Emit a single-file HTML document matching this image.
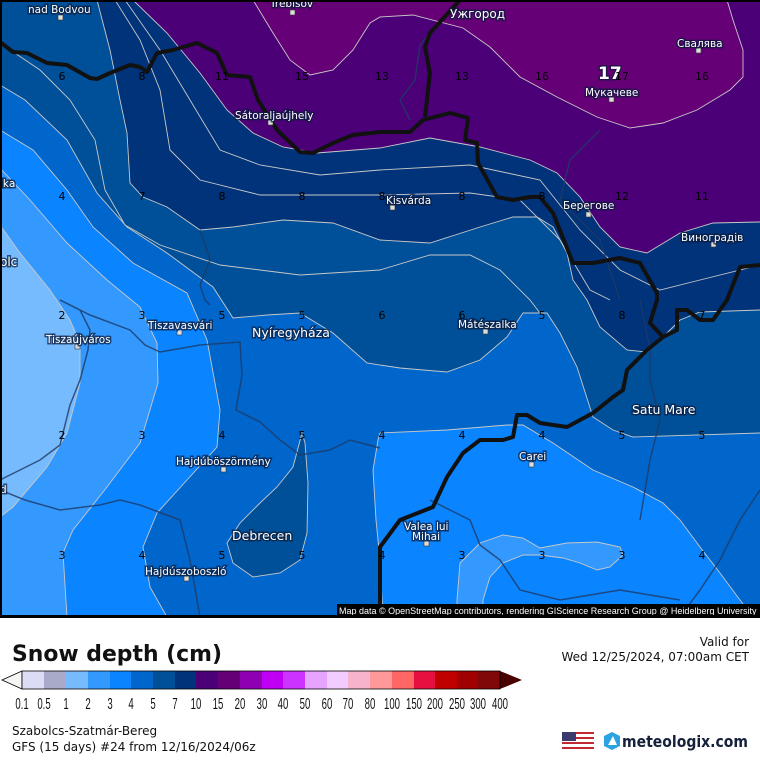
<!DOCTYPE html>
<html><head><meta charset="utf-8"><style>
body{margin:0;width:760px;height:760px;background:#fff;overflow:hidden;font-family:"Liberation Sans","DejaVu Sans",sans-serif}
svg{position:absolute;left:0;top:0}
.c{font:10.5px "DejaVu Sans","Liberation Sans",sans-serif;fill:#fff;paint-order:stroke;stroke:#0a1a3a;stroke-width:3px;stroke-opacity:.7}
.n{font:11px "DejaVu Sans",sans-serif;fill:#000}
.t{font:12px "DejaVu Sans",sans-serif;fill:#111}
</style></head><body>
<svg width="760" height="760" viewBox="0 0 760 760">
<rect x="0" y="0" width="760" height="618" fill="#0066cc"/>
<polygon fill="#0a84ff" points="0,130 33,150 67,190 93,227 133,263 187,293 207,340 220,410 217,447 187,480 157,513 143,547 150,587 167,617 0,617"/>
<polygon fill="#3399ff" points="0,168 30,200 67,243 107,280 140,307 157,343 158,383 140,443 107,487 73,530 63,553 67,617 0,617"/>
<polygon fill="#77bbff" points="0,225 20,253 50,290 70,320 80,343 80,383 67,433 47,467 13,507 0,517"/>
<polygon fill="#0a84ff" points="383,617 380,560 376,520 373,470 378,440 380,433 447,430 507,425 523,425 553,443 593,470 633,487 663,503 680,520 700,547 720,573 740,600 753,617"/>
<polygon fill="#3399ff" points="457,617 457,600 460,563 480,543 503,535 523,538 540,548 567,543 597,542 620,547 623,555 610,567 597,570 580,563 563,558 540,555 523,555 503,563 490,577 483,600 483,617"/>
<polygon fill="#005099" points="0,0 0,85 25,100 67,140 97,193 127,227 167,253 213,287 233,318 267,315 300,313 333,333 367,363 400,368 447,372 480,360 507,337 523,313 547,313 560,333 577,367 593,417 613,430 633,437 760,433 760,0"/>
<polygon fill="#005099" points="302,433 293,467 277,487 260,503 240,523 227,543 233,563 253,577 280,573 300,560 307,533 308,483 305,443"/>
<polygon fill="#00337a" points="97,0 110,50 120,100 127,133 130,183 143,197 167,207 200,230 233,227 283,220 333,223 380,240 430,243 480,227 513,217 537,217 553,227 567,253 573,280 587,300 600,327 627,350 647,352 660,340 680,320 700,312 760,310 760,0"/>
<polygon fill="#4b0078" points="133,0 167,33 200,73 227,110 253,133 283,147 317,153 380,148 430,138 480,147 530,160 557,173 580,197 600,227 620,247 647,253 680,233 713,223 760,222 760,0"/>
<polygon fill="#660077" points="253,0 273,33 290,60 310,75 333,70 353,50 370,23 380,17 413,15 463,28 490,47 520,77 557,97 597,117 630,128 663,123 697,110 730,90 743,77 743,50 733,20 727,0"/>
<g fill="none" stroke="#c8c8c8" stroke-width="0.9">
<polyline points="0,130 33,150 67,190 93,227 133,263 187,293 207,340 220,410 217,447 187,480 157,513 143,547 150,587 167,617"/>
<polyline points="0,168 30,200 67,243 107,280 140,307 157,343 158,383 140,443 107,487 73,530 63,553 67,617"/>
<polyline points="0,225 20,253 50,290 70,320 80,343 80,383 67,433 47,467 13,507 0,517"/>
<polyline points="383,617 380,560 376,520 373,470 378,440 380,433 447,430 507,425 523,425 553,443 593,470 633,487 663,503 680,520 700,547 720,573 740,600 753,617"/>
<polyline points="457,617 457,600 460,563 480,543 503,535 523,538 540,548 567,543 597,542 620,547 623,555 610,567 597,570 580,563 563,558 540,555 523,555 503,563 490,577 483,600 483,617"/>
<polyline points="0,85 25,100 67,140 97,193 127,227 167,253 213,287 233,318 267,315 300,313 333,333 367,363 400,368 447,372 480,360 507,337 523,313 547,313 560,333 577,367 593,417 613,430 633,437 760,433"/>
<polygon points="302,433 293,467 277,487 260,503 240,523 227,543 233,563 253,577 280,573 300,560 307,533 308,483 305,443"/>
<polyline points="0,43 40,70 70,100 95,140 105,190 125,225 160,245 220,265 300,275 380,270 430,255 470,255 500,270 530,300 540,313"/>
<polyline points="97,0 110,50 120,100 127,133 130,183 143,197 167,207 200,230 233,227 283,220 333,223 380,240 430,243 480,227 513,217 537,217 553,227 567,253 573,280 587,300 600,327 627,350 647,352 660,340 680,320 700,312 760,310"/>
<polyline points="115,0 140,40 160,90 170,150 200,180 260,195 380,195 470,193 520,200 560,240 590,290 610,300"/>
<polyline points="125,0 160,50 190,100 220,150 260,165 320,175 380,170 470,165 540,180 580,230 620,270 660,290 700,280 760,265"/>
<polyline points="133,0 167,33 200,73 227,110 253,133 283,147 317,153 380,148 430,138 480,147 530,160 557,173 580,197 600,227 620,247 647,253 680,233 713,223 760,222"/>
<polyline points="253,0 273,33 290,60 310,75 333,70 353,50 370,23 380,17 413,15 463,28 490,47 520,77 557,97 597,117 630,128 663,123 697,110 730,90 743,77 743,50 733,20 727,0"/>
</g>
<g fill="none" stroke="#1e3a66" stroke-width="1.5" opacity=".8">
<polyline points="200,617 190,560 180,520 140,505 120,500 100,505 60,510 25,500 0,490"/>
<polyline points="60,300 80,310 90,330 88,350 80,380 70,405 60,445 40,460 20,470 0,480"/>
<polyline points="60,300 90,315 130,330 145,345 160,352 200,345 240,342 242,375 236,410 260,422 280,440 300,455 330,450 350,440 380,448"/>
<polyline points="200,230 210,260 200,285 205,300 210,305"/>
<polyline points="430,33 420,45 415,80 400,100 410,120"/>
<polyline points="600,130 570,160 560,200 600,240 620,300"/>
<polyline points="640,300 650,350 650,380 660,420 650,460 640,520"/>
<polyline points="760,490 740,520 720,560 700,590 680,617"/>
<polyline points="430,500 450,510 470,520 480,545 500,560 520,590 560,600 620,590 680,600"/>
</g>
<g fill="none" stroke="#111" stroke-width="4" stroke-linejoin="round">
<polyline points="0,42 13,52 27,53 47,63 67,65 90,78 97,79 110,73 130,65 140,67 147,72 157,53 173,50 197,43 217,53 227,75 250,77 258,100 277,130 300,152 313,153 333,143 353,135 380,132 410,132 423,120 450,113 468,118 465,140 477,143 478,163 497,197 513,200 530,197 540,197 553,213 573,263 593,263 620,258 640,263 657,293 657,300 650,323 663,337 677,330 677,310 687,310 700,320 713,320 727,300 740,267 760,265"/>
<polyline points="460,0 430,33 425,47 430,73 425,117"/>
<polyline points="663,337 647,350 627,370 623,390 613,397 593,413 567,427 540,423 527,415 517,415 513,437 503,440 480,440 463,453 447,477 433,507 400,520 380,547 380,605"/>
</g>
<g fill="#ddd" stroke="#333" stroke-width=".6">
<rect x="58" y="15" width="5" height="5"/><rect x="290" y="10" width="5" height="5"/><rect x="268" y="120" width="5" height="5"/>
<rect x="390" y="205" width="5" height="5"/><rect x="586" y="212" width="5" height="5"/><rect x="711" y="242" width="5" height="5"/>
<rect x="609" y="97" width="5" height="5"/><rect x="696" y="48" width="5" height="5"/><rect x="177" y="330" width="5" height="5"/>
<rect x="75" y="344" width="5" height="5"/><rect x="483" y="329" width="5" height="5"/><rect x="221" y="467" width="5" height="5"/>
<rect x="529" y="462" width="5" height="5"/><rect x="424" y="541" width="5" height="5"/><rect x="184" y="576" width="5" height="5"/>
</g>
<g class="c">
<text x="28" y="13">nad Bodvou</text><text x="270" y="7">Trebišov</text><text x="450" y="18" font-size="12">Ужгород</text>
<text x="677" y="47">Свалява</text><text x="235" y="119">Sátoraljaújhely</text><text x="585" y="96">Мукачеве</text>
<text x="386" y="204">Kisvárda</text><text x="563" y="209">Берегове</text><text x="681" y="241">Виноградів</text>
<text x="0" y="187">ika</text><text x="0" y="266" font-size="12">olc</text>
<text x="148" y="329">Tiszavasvári</text><text x="46" y="343">Tiszaújváros</text><text x="252" y="337" font-size="12.5">Nyíregyháza</text>
<text x="458" y="328">Mátészalka</text><text x="632" y="414" font-size="12.5">Satu Mare</text><text x="519" y="460">Carei</text>
<text x="176" y="465">Hajdúböszörmény</text><text x="232" y="540" font-size="12.5">Debrecen</text>
<text x="404" y="530">Valea lui</text><text x="412" y="540">Mihai</text><text x="145" y="575">Hajdúszoboszló</text><text x="0" y="493">d</text>
<text x="598" y="79" font-size="17" font-weight="bold">17</text>
</g>
<g class="n" text-anchor="middle">
<text x="62" y="80">6</text><text x="142" y="80">8</text><text x="222" y="80">11</text><text x="302" y="80">15</text><text x="382" y="80">13</text><text x="462" y="80">13</text><text x="542" y="80">16</text><text x="622" y="80">17</text><text x="702" y="80">16</text>
<text x="62" y="200">4</text><text x="142" y="200">7</text><text x="222" y="200">8</text><text x="302" y="200">8</text><text x="382" y="200">8</text><text x="462" y="200">8</text><text x="542" y="200">8</text><text x="622" y="200">12</text><text x="702" y="200">11</text>
<text x="62" y="319">2</text><text x="142" y="319">3</text><text x="222" y="319">5</text><text x="302" y="319">5</text><text x="382" y="319">6</text><text x="462" y="319">6</text><text x="542" y="319">5</text><text x="622" y="319">8</text><text x="702" y="319">7</text>
<text x="62" y="439">2</text><text x="142" y="439">3</text><text x="222" y="439">4</text><text x="302" y="439">5</text><text x="382" y="439">4</text><text x="462" y="439">4</text><text x="542" y="439">4</text><text x="622" y="439">5</text><text x="702" y="439">5</text>
<text x="62" y="559">3</text><text x="142" y="559">4</text><text x="222" y="559">5</text><text x="302" y="559">5</text><text x="382" y="559">4</text><text x="462" y="559">3</text><text x="542" y="559">3</text><text x="622" y="559">3</text><text x="702" y="559">4</text>
</g>
<rect x="337" y="604" width="423" height="13" fill="#000"/>
<text x="339" y="614" font-size="9" fill="#fff" font-family="Liberation Sans,sans-serif">Map data © OpenStreetMap contributors, rendering GIScience Research Group @ Heidelberg University</text>
<rect x="0" y="0" width="760" height="2" fill="#000"/><rect x="0" y="0" width="2" height="618" fill="#000"/><rect x="0" y="615" width="760" height="3" fill="#000"/>
<text x="12" y="661" font-size="22" font-weight="bold" fill="#111" font-family="DejaVu Sans,sans-serif" textLength="210" lengthAdjust="spacingAndGlyphs">Snow depth (cm)</text>
<text x="749" y="646" class="t" text-anchor="end">Valid for</text>
<text x="749" y="661" class="t" text-anchor="end">Wed 12/25/2024, 07:00am CET</text>
<polygon points="2,680 22,671 22,689" fill="#f5f5f5" stroke="#000" stroke-width=".8"/>
<polygon points="500,671 522,680 500,689" fill="#4a0000"/>
<g stroke="none">
<rect x="22" y="671" width="22" height="18" fill="#dcdcf5"/><rect x="44" y="671" width="22" height="18" fill="#a9a9c9"/><rect x="66" y="671" width="22" height="18" fill="#77bbff"/><rect x="88" y="671" width="22" height="18" fill="#3399ff"/><rect x="110" y="671" width="22" height="18" fill="#0a84ff"/><rect x="131" y="671" width="22" height="18" fill="#0066cc"/><rect x="153" y="671" width="22" height="18" fill="#005099"/><rect x="175" y="671" width="22" height="18" fill="#00337a"/><rect x="196" y="671" width="22" height="18" fill="#4b0078"/><rect x="218" y="671" width="22" height="18" fill="#660077"/><rect x="240" y="671" width="22" height="18" fill="#8f00b3"/><rect x="262" y="671" width="22" height="18" fill="#c000f5"/><rect x="283" y="671" width="22" height="18" fill="#cc33ff"/><rect x="305" y="671" width="22" height="18" fill="#e6a3ff"/><rect x="327" y="671" width="22" height="18" fill="#f2ccff"/><rect x="348" y="671" width="22" height="18" fill="#f5b3cc"/><rect x="370" y="671" width="22" height="18" fill="#ff9999"/><rect x="392" y="671" width="22" height="18" fill="#ff6666"/><rect x="414" y="671" width="22" height="18" fill="#e60f40"/><rect x="435" y="671" width="22" height="18" fill="#c00000"/><rect x="457" y="671" width="22" height="18" fill="#a00000"/><rect x="478" y="671" width="22" height="18" fill="#800808"/>
</g>
<rect x="22" y="671" width="478" height="18" fill="none" stroke="#000" stroke-width=".8"/>
<g font-family="Liberation Sans,sans-serif" font-size="16" fill="#111" text-anchor="middle">
<text transform="translate(22,709) scale(0.6,1)">0.1</text><text transform="translate(44,709) scale(0.6,1)">0.5</text><text transform="translate(66,709) scale(0.6,1)">1</text><text transform="translate(88,709) scale(0.6,1)">2</text><text transform="translate(110,709) scale(0.6,1)">3</text><text transform="translate(131,709) scale(0.6,1)">4</text><text transform="translate(153,709) scale(0.6,1)">5</text><text transform="translate(175,709) scale(0.6,1)">7</text><text transform="translate(196,709) scale(0.6,1)">10</text><text transform="translate(218,709) scale(0.6,1)">15</text><text transform="translate(240,709) scale(0.6,1)">20</text><text transform="translate(262,709) scale(0.6,1)">30</text><text transform="translate(283,709) scale(0.6,1)">40</text><text transform="translate(305,709) scale(0.6,1)">50</text><text transform="translate(327,709) scale(0.6,1)">60</text><text transform="translate(348,709) scale(0.6,1)">70</text><text transform="translate(370,709) scale(0.6,1)">80</text><text transform="translate(392,709) scale(0.6,1)">100</text><text transform="translate(414,709) scale(0.6,1)">150</text><text transform="translate(435,709) scale(0.6,1)">200</text><text transform="translate(457,709) scale(0.6,1)">250</text><text transform="translate(478,709) scale(0.6,1)">300</text><text transform="translate(500,709) scale(0.6,1)">400</text>
</g>
<text x="12" y="735" class="t">Szabolcs-Szatmár-Bereg</text>
<text x="12" y="751" class="t">GFS (15 days) #24 from  12/16/2024/06z</text>
<g>
<rect x="562" y="732" width="32" height="17" fill="#fff"/>
<rect x="562" y="732" width="32" height="2" fill="#c0292f"/><rect x="562" y="737" width="32" height="2" fill="#c0292f"/><rect x="562" y="742" width="32" height="2" fill="#c0292f"/><rect x="562" y="747" width="32" height="2" fill="#c0292f"/>
<rect x="562" y="732" width="14" height="9" fill="#3c3b6e"/>
<polygon points="612,732 620,736 620,746 612,750 604,746 604,736" fill="#2aa3e0"/>
<polygon points="608,745 613,736 617,745" fill="#fff"/>
<text x="622" y="747" font-size="16" font-weight="bold" fill="#15203a" font-family="DejaVu Sans,sans-serif" textLength="126" lengthAdjust="spacingAndGlyphs">meteologix.com</text>
</g>
</svg>
</body></html>
